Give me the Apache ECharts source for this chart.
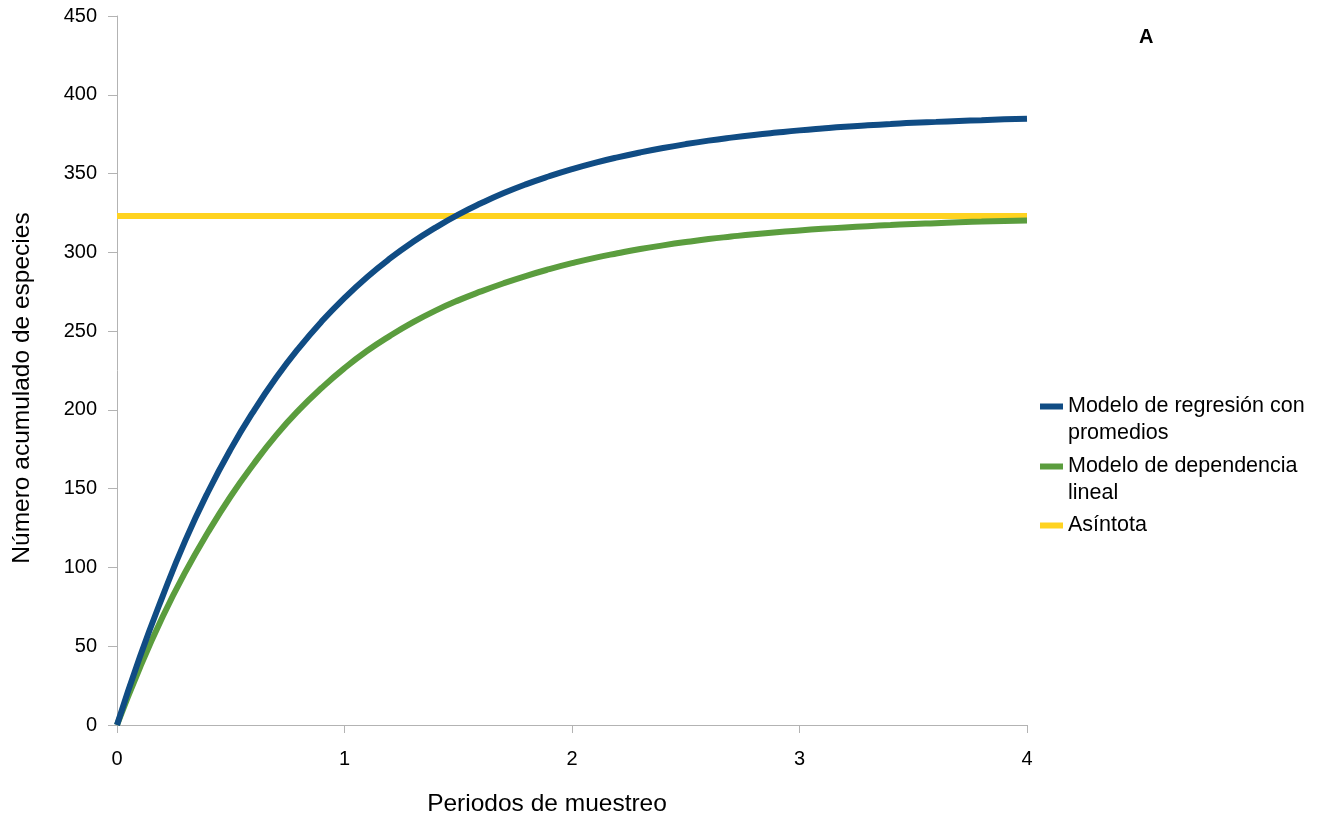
<!DOCTYPE html>
<html>
<head>
<meta charset="utf-8">
<script src="https://cdn.jsdelivr.net/npm/echarts@6/dist/echarts.min.js"></script>
<style>
html,body{margin:0;padding:0;background:#fff;}
#chart{width:1323px;height:822px;}
</style>
</head>
<body>
<div id="chart"></div>
<script>
// Data
var periods = [0,0.1,0.2,0.3,0.4,0.5,0.6,0.7,0.8,0.9,1.0,1.1,1.2,1.3,1.4,1.5,1.6,1.7,1.8,1.9,2.0,2.1,2.2,2.3,2.4,2.5,2.6,2.7,2.8,2.9,3.0,3.1,3.2,3.3,3.4,3.5,3.6,3.7,3.8,3.9,4.0];
var regresion = [0,43,81.5,117,147.9,175.1,199.1,220.5,239.4,256.2,271.1,284.4,296.1,306.5,315.7,323.9,331.1,337.6,343.3,348.3,352.8,356.8,360.3,363.4,366.2,368.7,370.9,372.8,374.5,376.0,377.4,378.6,379.7,380.6,381.4,382.2,382.8,383.4,383.9,384.4,384.8];
var dependencia = [0,36.2,68.5,97.0,122.3,145.2,165.5,184,200,214,226.5,237.5,247,255.5,263,269.5,275.2,280.4,285.1,289.3,293.1,296.5,299.4,302.1,304.4,306.5,308.4,310.0,311.5,312.8,313.9,314.9,315.8,316.6,317.3,318.0,318.5,319.1,319.5,319.9,320.2];
var asintotaX = [0,4];
var asintota = [323,323];
var xTicks = [0,1,2,3,4];
var yTicks = [0,50,100,150,200,250,300,350,400,450];

var names = {
  reg: 'Modelo de regresión con promedios',
  dep: 'Modelo de dependencia lineal',
  asi: 'Asíntota'
};
// leading blank line keeps the icon level with the first text line
var legendLabels = {};
legendLabels[names.reg] = '\nModelo de regresión con\npromedios';
legendLabels[names.dep] = '\nModelo de dependencia\nlineal';
legendLabels[names.asi] = 'Asíntota';

function pairs(xs, ys){ return xs.map(function(x,i){ return [x, ys[i]]; }); }

var FONT = 'Liberation Sans';
var axisColor = '#b3b3b3';

function legendFor(name, top){
  return {
    show: true,
    data: [name],
    left: 1035,
    top: top,
    orient: 'vertical',
    icon: 'rect',
    itemWidth: 23,
    itemHeight: 6,
    itemGap: 0,
    selectedMode: false,
    formatter: function(n){ return legendLabels[n]; },
    textStyle: {
      fontFamily: FONT,
      fontSize: 21.5,
      color: '#000',
      lineHeight: 27
    }
  };
}

var chart = echarts.init(document.getElementById('chart'), null, {renderer:'canvas'});
chart.setOption({
  animation: false,
  backgroundColor: '#fff',
  grid: { left: 117, right: 296, top: 16, bottom: 97, containLabel: false },
  xAxis: {
    type: 'value',
    min: xTicks[0],
    max: xTicks[xTicks.length-1],
    interval: 1,
    axisLine: { show: true, lineStyle: { color: axisColor, width: 1 } },
    axisTick: { show: true, length: 8, lineStyle: { color: axisColor } },
    splitLine: { show: false },
    axisLabel: { margin: 24, color: '#000', fontFamily: FONT, fontSize: 20 }
  },
  yAxis: {
    type: 'value',
    min: yTicks[0],
    max: yTicks[yTicks.length-1],
    interval: 50,
    axisLine: { show: true, lineStyle: { color: axisColor, width: 1 } },
    axisTick: { show: true, length: 9, lineStyle: { color: axisColor } },
    splitLine: { show: false },
    axisLabel: { margin: 20, color: '#000', fontFamily: FONT, fontSize: 20 }
  },
  legend: [
    legendFor(names.reg, 361),
    legendFor(names.dep, 421),
    legendFor(names.asi, 507)
  ],
  graphic: [
    { type: 'text', left: 1139, top: 27, style: { text: 'A', font: 'bold 20px "Liberation Sans"', fill: '#000' } },
    { type: 'text', x: 22, y: 388, rotation: Math.PI/2,
      style: { text: 'Número acumulado de especies', font: '24.5px "Liberation Sans"', fill: '#000', align: 'center', verticalAlign: 'middle' } },
    { type: 'text', x: 547, y: 804,
      style: { text: 'Periodos de muestreo', font: '24.5px "Liberation Sans"', fill: '#000', align: 'center', verticalAlign: 'middle' } }
  ],
  series: [
    { name: names.asi, type: 'line', data: pairs(asintotaX, asintota), showSymbol: false, symbol: 'none',
      color: '#ffd320', lineStyle: { width: 6, color: '#ffd320' }, z: 2 },
    { name: names.dep, type: 'line', data: pairs(periods, dependencia), smooth: true, showSymbol: false, symbol: 'none',
      color: '#5b9d3e', lineStyle: { width: 6, color: '#5b9d3e' }, z: 3 },
    { name: names.reg, type: 'line', data: pairs(periods, regresion), smooth: true, showSymbol: false, symbol: 'none',
      color: '#104c84', lineStyle: { width: 6, color: '#104c84' }, z: 4 }
  ]
});
</script>
</body>
</html>
